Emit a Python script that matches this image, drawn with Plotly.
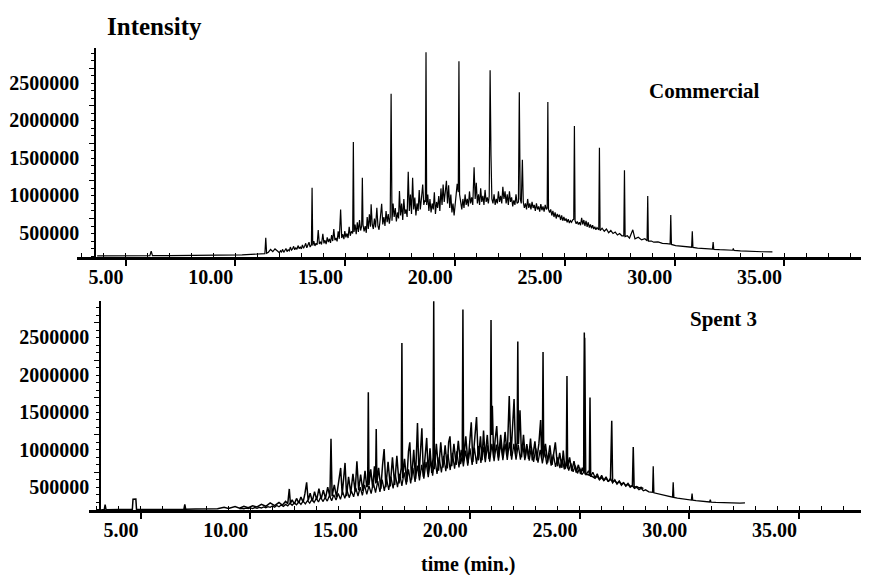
import plotly.graph_objects as go

# ---------------- Data ----------------
# Commercial sample: retention time (min) and intensity (counts)
commercial_time = [
    3.7, 4.5, 5.5, 6.1, 6.16, 6.22, 7.0, 8.0, 9.0, 9.8,
    10.3, 10.7, 11.0, 11.2, 11.34, 11.38, 11.42, 11.5, 11.6, 11.7,
    11.8, 11.9,
    12.0, 12.05, 12.1, 12.15, 12.2, 12.25, 12.3, 12.35, 12.4, 12.45,
    12.5, 12.55, 12.6, 12.65, 12.7, 12.75, 12.8, 12.85, 12.9, 12.95,
    13.0, 13.05, 13.1, 13.15, 13.2, 13.25, 13.3, 13.35, 13.4, 13.46,
    13.49, 13.52, 13.57, 13.62, 13.67, 13.72, 13.77, 13.82, 13.87, 13.92,
    13.98, 14.03, 14.08, 14.13, 14.18, 14.23, 14.28, 14.33, 14.38, 14.43,
    14.48, 14.53, 14.58, 14.63, 14.68, 14.73, 14.79, 14.84, 14.89, 14.94,
    14.98, 15.03, 15.08, 15.13, 15.18, 15.23, 15.28, 15.34, 15.37, 15.40,
    15.45, 15.5, 15.55, 15.6, 15.65, 15.7, 15.75, 15.78, 15.81, 15.86,
    15.91, 15.96, 16.0, 16.05, 16.1, 16.15, 16.18, 16.23, 16.28, 16.33,
    16.38, 16.44, 16.49, 16.54, 16.59, 16.66, 16.71, 16.76, 16.81, 16.86,
    16.91, 16.96, 17.01, 17.05, 17.09, 17.13, 17.18, 17.23, 17.28, 17.33,
    17.38, 17.43, 17.47, 17.52, 17.57, 17.62, 17.67, 17.72, 17.77, 17.82,
    17.87, 17.92, 17.97, 18.02, 18.07, 18.12, 18.17, 18.22, 18.27, 18.32,
    18.37, 18.42, 18.47, 18.53, 18.58, 18.62, 18.65, 18.68, 18.71, 18.76,
    18.81, 18.86, 18.91, 18.96, 19.01, 19.06, 19.11, 19.16, 19.21, 19.26,
    19.31, 19.36, 19.41, 19.46, 19.51, 19.56, 19.61, 19.66, 19.71, 19.76,
    19.81, 19.86, 19.91, 19.96, 20.01, 20.06, 20.1, 20.15, 20.18, 20.21,
    20.26, 20.31, 20.36, 20.41, 20.46, 20.51, 20.56, 20.61, 20.66, 20.71,
    20.76, 20.81, 20.87, 20.92, 20.97, 21.02, 21.07, 21.12, 21.17, 21.22,
    21.27, 21.32, 21.37, 21.42, 21.47, 21.52, 21.56, 21.60, 21.64, 21.68,
    21.73, 21.78, 21.83, 21.88, 21.93, 21.98, 22.03, 22.08, 22.13, 22.18,
    22.23, 22.28, 22.33, 22.38, 22.43, 22.48, 22.53, 22.58, 22.63, 22.68,
    22.73, 22.78, 22.83, 22.89, 22.93, 22.97, 23.02, 23.07, 23.11, 23.16,
    23.21, 23.26, 23.31, 23.36, 23.41, 23.46, 23.51, 23.56, 23.61, 23.66,
    23.71, 23.76, 23.81, 23.86, 23.91, 23.96, 24.01, 24.06, 24.11, 24.16,
    24.2, 24.23, 24.26, 24.31, 24.36, 24.41, 24.46, 24.51, 24.56, 24.61,
    24.66, 24.71, 24.76, 24.81, 24.86, 24.91, 24.96, 25.01, 25.06, 25.11,
    25.16, 25.21, 25.26, 25.31, 25.36, 25.41, 25.44, 25.47, 25.52, 25.57,
    25.62, 25.67, 25.72, 25.77, 25.82, 25.87, 25.92, 25.97, 26.02, 26.07,
    26.12, 26.17, 26.22, 26.27, 26.32, 26.37, 26.42, 26.47, 26.55, 26.58,
    26.61, 26.7, 26.8, 26.9, 27.0, 27.1, 27.2, 27.3, 27.4, 27.5,
    27.6, 27.69, 27.72, 27.75, 27.85, 27.95, 28.1, 28.2, 28.35, 28.5,
    28.65, 28.75, 28.78, 28.81, 28.95, 29.05, 29.25, 29.45, 29.65, 29.80,
    29.83, 29.86, 30.05, 30.3, 30.55, 30.78, 30.81, 30.84, 31.05, 31.3,
    31.5, 31.73, 31.76, 31.79, 32.05, 32.35, 32.65, 32.68, 32.71, 33.0,
    33.5, 34.0, 34.46,
]
commercial_intensity = [
    4e3, 4e3, 5e3, 5e3, 66e3, 5e3, 6e3, 7e3, 9e3, 11e3,
    16e3, 22e3, 26e3, 30e3, 32e3, 243e3, 38e3, 52e3, 88e3, 60e3,
    95e3, 70e3,
    45e3, 70e3, 55e3, 90e3, 50e3, 75e3, 100e3, 60e3, 85e3, 70e3,
    120e3, 80e3, 95e3, 130e3, 85e3, 110e3, 90e3, 140e3, 100e3, 120e3,
    95e3, 150e3, 105e3, 130e3, 170e3, 110e3, 140e3, 185e3, 120e3, 150e3,
    908e3, 140e3, 200e3, 135e3, 170e3, 150e3, 346e3, 160e3, 190e3, 155e3,
    297e3, 170e3, 210e3, 160e3, 250e3, 185e3, 230e3, 175e3, 280e3, 200e3,
    360e3, 210e3, 240e3, 195e3, 330e3, 230e3, 620e3, 240e3, 290e3, 225e3,
    333e3, 250e3, 300e3, 240e3, 390e3, 270e3, 330e3, 300e3, 1516e3, 320e3,
    420e3, 290e3, 450e3, 320e3, 480e3, 340e3, 400e3, 1040e3, 420e3, 330e3,
    400e3, 310e3, 520e3, 360e3, 555e3, 390e3, 688e3, 420e3, 360e3, 500e3,
    380e3, 642e3, 400e3, 350e3, 480e3, 696e3, 420e3, 520e3, 400e3, 600e3,
    450e3, 560e3, 430e3, 520e3, 2160e3, 470e3, 700e3, 520e3, 640e3, 460e3,
    580e3, 500e3, 864e3, 540e3, 700e3, 480e3, 760e3, 560e3, 620e3, 520e3,
    1120e3, 600e3, 820e3, 560e3, 1040e3, 620e3, 780e3, 540e3, 700e3, 600e3,
    880e3, 620e3, 760e3, 953e3, 680e3, 740e3, 720e3, 2710e3, 680e3, 820e3,
    600e3, 760e3, 580e3, 700e3, 620e3, 850e3, 560e3, 720e3, 640e3, 800e3,
    600e3, 900e3, 680e3, 950e3, 720e3, 880e3, 1000e3, 700e3, 940e3, 640e3,
    820e3, 580e3, 700e3, 540e3, 680e3, 780e3, 960e3, 850e3, 2590e3, 820e3,
    700e3, 620e3, 760e3, 640e3, 820e3, 680e3, 760e3, 660e3, 860e3, 700e3,
    780e3, 680e3, 1180e3, 760e3, 975e3, 700e3, 820e3, 680e3, 900e3, 720e3,
    800e3, 680e3, 880e3, 720e3, 780e3, 700e3, 800e3, 2470e3, 1340e3, 760e3,
    700e3, 820e3, 680e3, 760e3, 700e3, 860e3, 720e3, 800e3, 700e3, 920e3,
    760e3, 860e3, 700e3, 820e3, 680e3, 860e3, 720e3, 780e3, 660e3, 740e3,
    680e3, 820e3, 700e3, 720e3, 2180e3, 760e3, 700e3, 1280e3, 720e3, 640e3,
    700e3, 620e3, 760e3, 640e3, 700e3, 620e3, 720e3, 640e3, 680e3, 600e3,
    700e3, 620e3, 660e3, 590e3, 690e3, 610e3, 660e3, 590e3, 680e3, 620e3,
    640e3, 2050e3, 620e3, 580e3, 620e3, 540e3, 600e3, 520e3, 580e3, 500e3,
    560e3, 520e3, 550e3, 480e3, 540e3, 470e3, 520e3, 470e3, 500e3, 450e3,
    490e3, 440e3, 470e3, 450e3, 480e3, 490e3, 1730e3, 470e3, 430e3, 460e3,
    420e3, 450e3, 410e3, 510e3, 420e3, 480e3, 400e3, 470e3, 390e3, 450e3,
    380e3, 420e3, 370e3, 410e3, 360e3, 390e3, 350e3, 380e3, 350e3, 1440e3,
    340e3, 370e3, 330e3, 360e3, 310e3, 340e3, 300e3, 320e3, 280e3, 300e3,
    270e3, 270e3, 1140e3, 260e3, 270e3, 240e3, 350e3, 230e3, 250e3, 215e3,
    230e3, 205e3, 800e3, 200e3, 200e3, 185e3, 190e3, 170e3, 165e3, 160e3,
    545e3, 155e3, 140e3, 130e3, 125e3, 118e3, 330e3, 115e3, 105e3, 100e3,
    95e3, 92e3, 186e3, 90e3, 85e3, 80e3, 78e3, 100e3, 76e3, 70e3,
    62e3, 58e3, 57e3,
]

# Spent 3 sample, run A (noisy trace, ends near 27.9 min)
spent_a_time = [
    3.2, 3.34, 3.38, 3.42, 4.0, 4.62, 4.65, 4.78, 4.81, 5.5,
    6.5, 6.97, 7.01, 7.05, 7.5, 8.0, 8.5, 8.8, 9.0, 9.3,
    9.5, 9.7, 9.9, 10.1, 10.3, 10.5, 10.7, 10.9, 11.1, 11.3,
    11.45, 11.6, 11.7, 11.77, 11.82, 11.9, 12.0, 12.1, 12.2, 12.3,
    12.4, 12.48, 12.56, 12.63, 12.72, 12.82, 12.92, 13.02, 13.12, 13.22,
    13.32, 13.42, 13.52, 13.62, 13.67, 13.72, 13.82, 13.92, 14.02, 14.11,
    14.18, 14.25, 14.31, 14.38, 14.47, 14.57, 14.67, 14.77, 14.85, 14.93,
    15.02, 15.12, 15.22, 15.3, 15.34, 15.37, 15.40, 15.48, 15.57, 15.65,
    15.7, 15.73, 15.76, 15.84, 15.94, 16.02, 16.09, 16.17, 16.27, 16.37,
    16.47, 16.57, 16.67, 16.77, 16.87, 16.90, 16.93, 17.02, 17.12, 17.2,
    17.26, 17.34, 17.44, 17.52, 17.61, 17.68, 17.76, 17.81, 17.88, 17.96,
    18.03, 18.1, 18.18, 18.26, 18.32, 18.35, 18.38, 18.47, 18.57, 18.67,
    18.77, 18.87, 18.97, 19.03, 19.09, 19.17, 19.27, 19.37, 19.47, 19.57,
    19.65, 19.68, 19.71, 19.81, 19.91, 19.99, 20.06, 20.13, 20.21, 20.3,
    20.38, 20.48, 20.55, 20.62, 20.69, 20.79, 20.87, 20.93, 20.96, 20.99,
    21.02, 21.08, 21.15, 21.22, 21.3, 21.4, 21.5, 21.6, 21.7, 21.79,
    21.87, 21.95, 22.01, 22.08, 22.15, 22.18, 22.21, 22.28, 22.35, 22.44,
    22.52, 22.59, 22.67, 22.76, 22.84, 22.96, 23.04, 23.14, 23.22, 23.27,
    23.30, 23.33, 23.36, 23.44, 23.54, 23.64, 23.74, 23.89, 23.99, 24.09,
    24.19, 24.25, 24.33, 24.39, 24.42, 24.45, 24.54, 24.64, 24.74, 24.84,
    24.94, 25.04, 25.12, 25.18, 25.21, 25.24, 25.33, 25.44, 25.47, 25.5,
    25.6, 25.7, 25.8, 25.9, 26.0, 26.1, 26.2, 26.3, 26.4, 26.46,
    26.5, 26.6, 26.7, 26.8, 26.9, 27.0, 27.1, 27.2, 27.3, 27.4,
    27.44, 27.48, 27.6, 27.7, 27.8, 27.9,
]
spent_a_intensity = [
    0, 0, 67e3, 0, 2e3, 3e3, 140e3, 143e3, 3e3, 4e3,
    5e3, 6e3, 70e3, 6e3, 8e3, 10e3, 12e3, 30e3, 15e3, 40e3,
    20e3, 45e3, 25e3, 50e3, 35e3, 70e3, 45e3, 90e3, 55e3, 95e3,
    60e3, 110e3, 80e3, 277e3, 85e3, 130e3, 75e3, 150e3, 90e3, 170e3,
    100e3, 210e3, 366e3, 120e3, 220e3, 110e3, 240e3, 130e3, 280e3, 140e3,
    260e3, 150e3, 300e3, 170e3, 950e3, 180e3, 330e3, 170e3, 380e3, 558e3,
    200e3, 420e3, 625e3, 180e3, 440e3, 220e3, 480e3, 240e3, 647e3, 260e3,
    470e3, 250e3, 520e3, 300e3, 320e3, 1570e3, 330e3, 540e3, 290e3, 580e3,
    350e3, 1080e3, 360e3, 560e3, 280e3, 600e3, 812e3, 300e3, 640e3, 310e3,
    700e3, 330e3, 720e3, 350e3, 560e3, 2230e3, 420e3, 680e3, 370e3, 780e3,
    901e3, 400e3, 800e3, 410e3, 1160e3, 450e3, 820e3, 1090e3, 440e3, 760e3,
    960e3, 480e3, 820e3, 490e3, 700e3, 2790e3, 540e3, 880e3, 520e3, 900e3,
    560e3, 860e3, 550e3, 900e3, 981e3, 580e3, 880e3, 600e3, 920e3, 610e3,
    720e3, 2680e3, 650e3, 980e3, 620e3, 900e3, 1170e3, 640e3, 940e3, 1240e3,
    660e3, 980e3, 660e3, 1060e3, 700e3, 1000e3, 680e3, 780e3, 2540e3, 1000e3,
    1390e3, 690e3, 940e3, 1120e3, 700e3, 1000e3, 700e3, 1040e3, 720e3, 1520e3,
    720e3, 1100e3, 1480e3, 740e3, 900e3, 2250e3, 880e3, 1330e3, 700e3, 1000e3,
    690e3, 879e3, 680e3, 950e3, 660e3, 915e3, 660e3, 880e3, 1200e3, 680e3,
    800e3, 2110e3, 700e3, 880e3, 630e3, 860e3, 600e3, 900e3, 580e3, 760e3,
    560e3, 790e3, 545e3, 600e3, 1790e3, 550e3, 700e3, 515e3, 650e3, 495e3,
    600e3, 475e3, 560e3, 500e3, 2370e3, 480e3, 470e3, 460e3, 1500e3, 450e3,
    440e3, 420e3, 450e3, 400e3, 430e3, 390e3, 420e3, 380e3, 400e3, 1190e3,
    370e3, 390e3, 350e3, 380e3, 340e3, 360e3, 320e3, 350e3, 310e3, 320e3,
    839e3, 300e3, 310e3, 290e3, 300e3, 281e3,
]

# Spent 3 sample, run B (lower trace, continues to ~32.5 min)
spent_b_time = [
    9.5, 9.6, 9.7, 9.8, 9.9, 10.0, 10.1, 10.2, 10.3, 10.4,
    10.5, 10.6, 10.7, 10.8, 10.9, 11.0, 11.1, 11.2, 11.3, 11.4,
    11.5, 11.6, 11.7, 11.8, 11.9, 12.0, 12.1, 12.2, 12.3, 12.4,
    12.5, 12.6, 12.7, 12.8, 12.9, 13.0, 13.1, 13.2, 13.3, 13.4,
    13.5, 13.6, 13.7, 13.8, 13.9, 14.0, 14.1, 14.2, 14.3, 14.4,
    14.5, 14.6, 14.7, 14.8, 14.9, 15.0, 15.1, 15.2, 15.3, 15.4,
    15.5, 15.6, 15.7, 15.8, 15.9, 16.0, 16.1, 16.2, 16.3, 16.4,
    16.5, 16.6, 16.7, 16.8, 16.9, 17.0, 17.1, 17.2, 17.3, 17.4,
    17.5, 17.6, 17.7, 17.8, 17.9, 18.0, 18.1, 18.2, 18.3, 18.4,
    18.5, 18.6, 18.7, 18.8, 18.9, 19.0, 19.1, 19.2, 19.3, 19.4,
    19.5, 19.6, 19.7, 19.8, 19.9, 20.0, 20.1, 20.2, 20.3, 20.4,
    20.5, 20.6, 20.7, 20.8, 20.9, 21.0, 21.1, 21.2, 21.3, 21.4,
    21.5, 21.6, 21.7, 21.8, 21.9, 22.0, 22.1, 22.2, 22.3, 22.4,
    22.5, 22.6, 22.7, 22.8, 22.9, 23.0, 23.1, 23.2, 23.3, 23.4,
    23.5, 23.6, 23.7, 23.8, 23.9, 24.0, 24.1, 24.2, 24.3, 24.4,
    24.5, 24.6, 24.7, 24.8, 24.9, 25.0, 25.1, 25.18, 25.23, 25.28,
    25.4, 25.5, 25.6, 25.7, 25.8, 25.9, 26.0, 26.1, 26.2, 26.3,
    26.4, 26.5, 26.6, 26.7, 26.8, 26.9, 27.0, 27.1, 27.2, 27.3,
    27.4, 27.5, 27.6, 27.7, 27.8, 27.9, 28.0, 28.15, 28.32, 28.35,
    28.38, 28.5, 28.7, 28.9, 29.05, 29.23, 29.26, 29.29, 29.45, 29.6,
    29.8, 30.0, 30.09, 30.12, 30.15, 30.3, 30.5, 30.7, 30.92, 30.95,
    30.98, 31.2, 31.5, 31.8, 32.0, 32.3, 32.53,
]
spent_b_intensity = [
    10e3, 18e3, 12e3, 20e3, 14e3, 22e3, 15e3, 28e3, 18e3, 30e3,
    22e3, 36e3, 26e3, 40e3, 30e3, 48e3, 33e3, 55e3, 38e3, 62e3,
    44e3, 70e3, 50e3, 85e3, 58e3, 90e3, 64e3, 105e3, 70e3, 115e3,
    78e3, 120e3, 86e3, 140e3, 95e3, 150e3, 102e3, 170e3, 108e3, 160e3,
    115e3, 190e3, 120e3, 200e3, 130e3, 215e3, 138e3, 240e3, 150e3, 260e3,
    160e3, 250e3, 172e3, 290e3, 182e3, 300e3, 192e3, 330e3, 205e3, 320e3,
    215e3, 360e3, 228e3, 380e3, 238e3, 400e3, 250e3, 420e3, 265e3, 440e3,
    285e3, 470e3, 300e3, 480e3, 318e3, 500e3, 335e3, 540e3, 352e3, 560e3,
    370e3, 590e3, 392e3, 600e3, 415e3, 640e3, 435e3, 660e3, 455e3, 690e3,
    478e3, 700e3, 497e3, 720e3, 515e3, 740e3, 530e3, 760e3, 548e3, 780e3,
    565e3, 800e3, 578e3, 790e3, 590e3, 820e3, 600e3, 830e3, 612e3, 850e3,
    625e3, 840e3, 635e3, 860e3, 642e3, 880e3, 650e3, 870e3, 656e3, 890e3,
    662e3, 880e3, 665e3, 900e3, 668e3, 880e3, 670e3, 870e3, 668e3, 880e3,
    662e3, 850e3, 655e3, 840e3, 640e3, 820e3, 630e3, 800e3, 618e3, 790e3,
    605e3, 760e3, 590e3, 740e3, 572e3, 700e3, 556e3, 680e3, 540e3, 650e3,
    522e3, 620e3, 505e3, 590e3, 485e3, 560e3, 470e3, 500e3, 2300e3, 460e3,
    520e3, 445e3, 500e3, 430e3, 480e3, 405e3, 460e3, 392e3, 440e3, 375e3,
    420e3, 358e3, 400e3, 342e3, 380e3, 326e3, 360e3, 312e3, 340e3, 298e3,
    320e3, 284e3, 300e3, 268e3, 285e3, 252e3, 265e3, 238e3, 232e3, 580e3,
    225e3, 218e3, 200e3, 188e3, 178e3, 168e3, 366e3, 164e3, 155e3, 148e3,
    138e3, 132e3, 128e3, 214e3, 126e3, 120e3, 114e3, 108e3, 102e3, 134e3,
    100e3, 96e3, 92e3, 89e3, 88e3, 88e3, 90e3,
]

# Tick labels
x_tick_values = [5, 10, 15, 20, 25, 30, 35]
x_tick_labels = ["5.00", "10.00", "15.00", "20.00", "25.00", "30.00", "35.00"]
y_tick_values = [500000, 1000000, 1500000, 2000000, 2500000]
y_tick_labels = ["500000", "1000000", "1500000", "2000000", "2500000"]

# ---------------- Figure ----------------
# The page body adds an 8 px margin, so the figure is 8 px smaller than the
# window and layout positions are measured from the window corner minus 8 px.
OFF = 8
W, H = 869 - OFF, 575 - OFF


def xp(px):
    return (px - OFF) / W


def yp(py):
    return 1 - (py - OFF) / H


FONT = "Liberation Serif"
tick_font = dict(family=FONT, size=20, color="black", weight="bold")

fig = go.Figure()
fig.add_trace(go.Scatter(x=commercial_time, y=commercial_intensity, mode="lines",
                         line=dict(color="black", width=1.2),
                         xaxis="x", yaxis="y", showlegend=False, hoverinfo="skip"))
fig.add_trace(go.Scatter(x=spent_b_time, y=spent_b_intensity, mode="lines",
                         line=dict(color="black", width=1.3),
                         xaxis="x2", yaxis="y2", showlegend=False, hoverinfo="skip"))
fig.add_trace(go.Scatter(x=spent_a_time, y=spent_a_intensity, mode="lines",
                         line=dict(color="black", width=1.5),
                         xaxis="x2", yaxis="y2", showlegend=False, hoverinfo="skip"))
# empty traces so the minor-tick overlay axes are drawn
fig.add_trace(go.Scatter(x=[None], y=[None], xaxis="x3", yaxis="y", showlegend=False))
fig.add_trace(go.Scatter(x=[None], y=[None], xaxis="x4", yaxis="y2", showlegend=False))

top_xrange = [2.781, 38.86]
bot_xrange = [2.645, 38.18]


def xaxis_main(domain, rng, anchor):
    return dict(domain=domain, range=rng, anchor=anchor, showline=True, linewidth=3,
                linecolor="black", ticks="outside", ticklen=6, tickwidth=1.5,
                tickcolor="black", tickmode="array", tickvals=x_tick_values,
                ticktext=x_tick_labels, tickfont=tick_font,
                ticklabelposition="outside left", showgrid=False, zeroline=False,
                automargin=False, fixedrange=True)


def xaxis_minor(over, rng, anchor):
    return dict(overlaying=over, range=rng, anchor=anchor, tickmode="linear", tick0=0,
                dtick=1, ticks="inside", ticklen=4, tickwidth=1.2, tickcolor="black",
                showticklabels=False, showline=False, showgrid=False, zeroline=False,
                automargin=False, fixedrange=True)


def yaxis_main(domain, rng, pos, standoff):
    return dict(domain=domain, range=rng, anchor="free", position=pos, showline=True,
                linewidth=1.6, linecolor="black", ticks="outside", ticklen=5,
                tickwidth=1.2, tickcolor="black", tickmode="array",
                tickvals=y_tick_values, ticktext=y_tick_labels, tickfont=tick_font,
                ticklabelposition="outside bottom", ticklabelstandoff=standoff,
                minor=dict(tickmode="linear", tick0=0, dtick=100000, ticks="outside",
                           ticklen=3, tickwidth=1, tickcolor="black"),
                showgrid=False, zeroline=False, automargin=False, fixedrange=True)


fig.update_layout(
    width=W, height=H,
    margin=dict(l=0, r=0, t=0, b=0, autoexpand=False),
    paper_bgcolor="white", plot_bgcolor="white",
    hovermode=False,
    xaxis=xaxis_main([xp(77), 1], top_xrange, "y"),
    xaxis3=xaxis_minor("x", top_xrange, "y"),
    yaxis=yaxis_main([yp(257), yp(48)], [-12000, 2767000], xp(95), 11),
    xaxis2=xaxis_main([xp(89), 1], bot_xrange, "y2"),
    xaxis4=xaxis_minor("x2", bot_xrange, "y2"),
    yaxis2=yaxis_main([yp(510), yp(301)], [-5000, 2793000], xp(100), 6),
    annotations=[
        dict(text="Intensity", x=xp(154.5), y=yp(26), xref="paper", yref="paper",
             xanchor="center", yanchor="middle", showarrow=False,
             font=dict(family=FONT, size=25, color="black", weight="bold")),
        dict(text="Commercial", x=xp(704.5), y=yp(91), xref="paper", yref="paper",
             xanchor="center", yanchor="middle", showarrow=False,
             font=dict(family=FONT, size=21, color="black", weight="bold")),
        dict(text="Spent 3", x=xp(723), y=yp(319), xref="paper", yref="paper",
             xanchor="center", yanchor="middle", showarrow=False,
             font=dict(family=FONT, size=21, color="black", weight="bold")),
        dict(text="time (min.)", x=xp(468), y=yp(564), xref="paper", yref="paper",
             xanchor="center", yanchor="middle", showarrow=False,
             font=dict(family=FONT, size=20, color="black", weight="bold")),
    ],
)

fig.write_html("out.html")
